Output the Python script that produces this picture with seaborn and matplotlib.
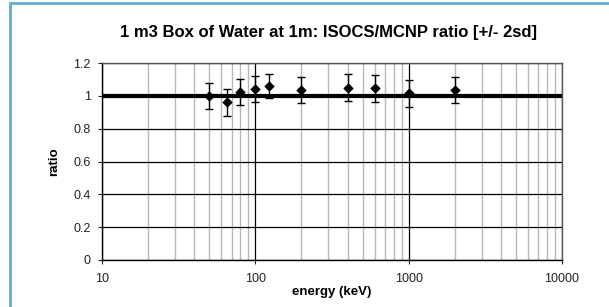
import numpy as np
import pandas as pd
import matplotlib
matplotlib.use("Agg")
import matplotlib.pyplot as plt
from matplotlib.patches import Rectangle
from matplotlib.ticker import LogLocator, FixedLocator, NullFormatter
import seaborn as sns

# Data
energy_kev = [50, 65, 80, 100, 122, 200, 400, 600, 1000, 2000]
ratio = [1.00, 0.96, 1.025, 1.04, 1.06, 1.035, 1.05, 1.045, 1.015, 1.035]
err_2sd = [0.08, 0.08, 0.08, 0.08, 0.075, 0.08, 0.08, 0.08, 0.08, 0.08]
y_ticks = [0, 0.2, 0.4, 0.6, 0.8, 1, 1.2]
y_tick_labels = ["0", "0.2", "0.4", "0.6", "0.8", "1", "1.2"]
x_ticks = [10, 100, 1000, 10000]
x_tick_labels = ["10", "100", "1000", "10000"]

df = pd.DataFrame({"energy": energy_kev, "ratio": ratio, "err": err_2sd})

sns.set_style("white")
plt.rcParams["font.family"] = ["Liberation Sans", "DejaVu Sans"]
plt.rcParams["text.color"] = "black"
plt.rcParams["axes.labelcolor"] = "black"

fig = plt.figure(figsize=(6.09, 3.07), dpi=100)
ax = fig.add_axes([102 / 609, 1 - 260 / 307, 460 / 609, 197 / 307])

# outer chart frame (teal)
fig.add_artist(Rectangle((10 / 609, -0.1), 1.2, 1 - 3 / 307 + 0.1,
                         transform=fig.transFigure, fill=False,
                         edgecolor="#5fb0cc", linewidth=2))

ax.set_xscale("log")
ax.set_xlim(10, 10000)
ax.set_ylim(0, 1.2)

# grid
ax.xaxis.set_minor_locator(LogLocator(base=10, subs=np.arange(2, 10)))
ax.xaxis.set_minor_formatter(NullFormatter())
ax.grid(True, which="minor", axis="x", color="#b8b8b8", linewidth=1)
ax.grid(True, which="major", axis="x", color="black", linewidth=0.9)
ax.grid(True, which="major", axis="y", color="black", linewidth=0.9)
ax.set_axisbelow(True)

# reference line at 1
ax.axhline(1, color="black", linewidth=3, zorder=3)

ax.errorbar(df["energy"], df["ratio"], yerr=df["err"], fmt="none",
            ecolor="black", elinewidth=1, capsize=3, capthick=1, zorder=4)
sns.scatterplot(data=df, x="energy", y="ratio", marker="D", s=24,
                color="black", edgecolor="black", ax=ax, zorder=5, legend=False)

ax.yaxis.set_major_locator(FixedLocator(y_ticks))
ax.set_yticklabels(y_tick_labels)
ax.xaxis.set_major_locator(FixedLocator(x_ticks))
ax.set_xticklabels(x_tick_labels)
ax.tick_params(axis="both", which="major", labelsize=9, colors="#222222",
               length=3, width=0.8, direction="out", pad=5)
ax.tick_params(axis="x", which="major", pad=6)
ax.tick_params(axis="x", which="minor", length=0)
ax.tick_params(left=True, bottom=True)

for side in ["top", "right", "left", "bottom"]:
    ax.spines[side].set_color("#555555")
    ax.spines[side].set_linewidth(1)
ax.spines["left"].set_color("black")
ax.spines["bottom"].set_color("black")

ax.set_xlabel("energy (keV)", fontsize=9.5, fontweight="bold", labelpad=1)
ax.set_ylabel("ratio", fontsize=9.5, fontweight="bold", labelpad=10)
fig.text(0.540, 1 - 33 / 307, "1 m3 Box of Water at 1m: ISOCS/MCNP ratio [+/- 2sd]",
         ha="center", va="center", fontsize=12, fontweight="bold", color="black")

fig.savefig("out.png", dpi=100)
